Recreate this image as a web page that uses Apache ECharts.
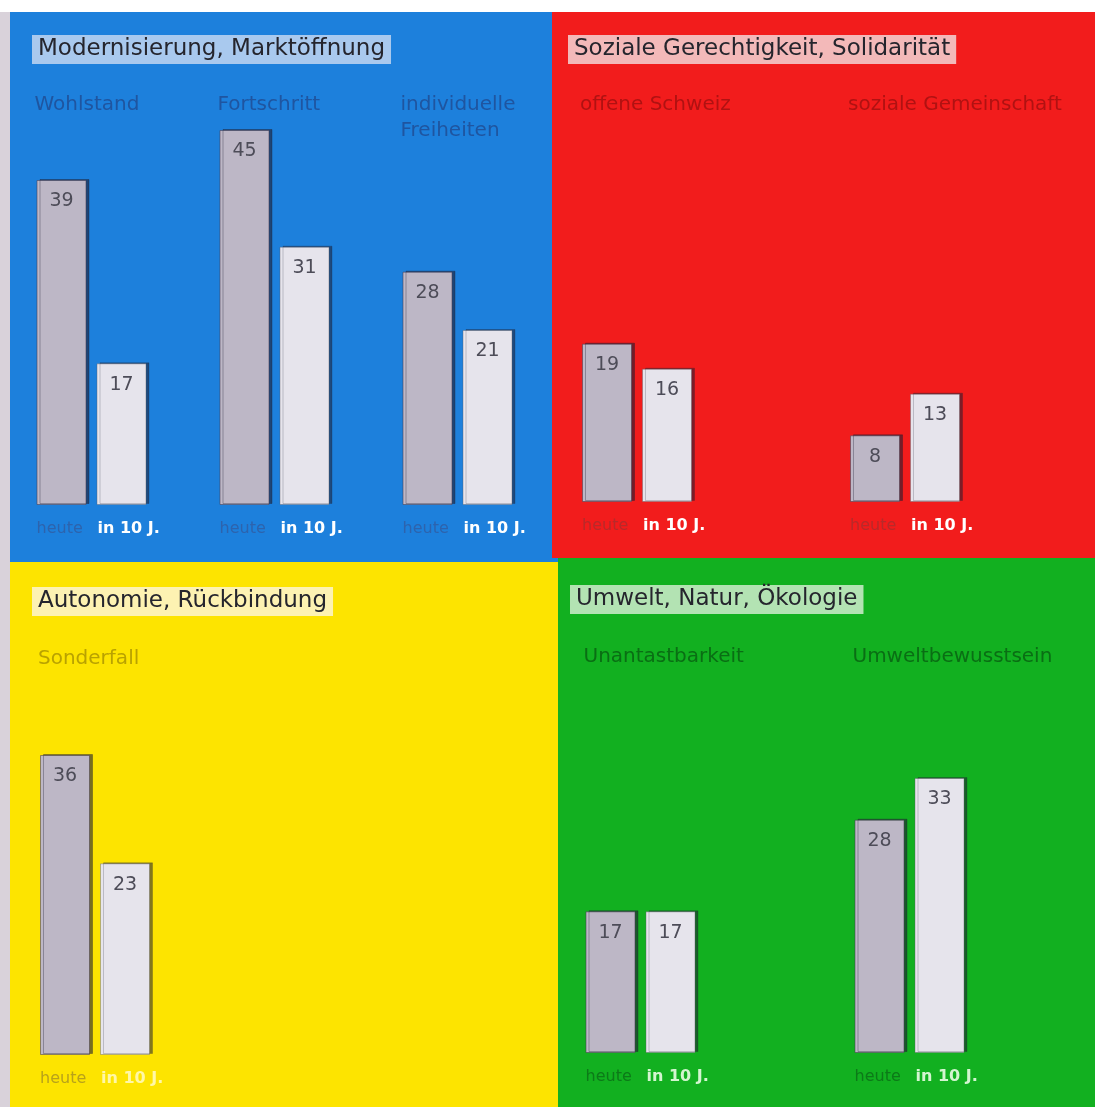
<!DOCTYPE html>
<html><head><meta charset="utf-8">
<script src="https://cdn.jsdelivr.net/npm/echarts@6/dist/echarts.min.js"></script>
<style>html,body{margin:0;padding:0;background:#fff}#c{width:1095px;height:1107px}</style>
</head><body><div id="c"></div>
<script>
// ---- data ----
const panelTitles = ['Modernisierung, Marktöffnung','Soziale Gerechtigkeit, Solidarität','Autonomie, Rückbindung','Umwelt, Natur, Ökologie'];
const catsBlue = ['Wohlstand','Fortschritt','individuelle\nFreiheiten'];
const heuteBlue = [39,45,28];
const in10Blue = [17,31,21];
const catsRed = ['offene Schweiz','soziale Gemeinschaft'];
const heuteRed = [19,8];
const in10Red = [16,13];
const catsYellow = ['Sonderfall'];
const heuteYellow = [36];
const in10Yellow = [23];
const catsGreen = ['Unantastbarkeit','Umweltbewusstsein'];
const heuteGreen = [17,28];
const in10Green = [17,33];
const barNames = ['heute','in 10 J.'];

// ---- styles ----
const FONT = 'DejaVu Sans';
const panels = [
  {cats:catsBlue, h:heuteBlue, f:in10Blue, grid:{left:0,width:549,top:5,height:500}, bg:'#1d80dc', catColor:'#1f55a0', heuteColor:'#2d63ad', in10Color:'#ffffff', box:'#a9c9ee', tpos:{left:32,top:35}, labTop:92},
  {cats:catsRed, h:heuteRed, f:in10Red, grid:{left:503,width:536,top:2,height:500}, bg:'#f21c1c', catColor:'#b01212', heuteColor:'#b82a2a', in10Color:'#ffffff', box:'#f3b9b9', tpos:{left:568,top:35}, labTop:92},
  {cats:catsYellow, h:heuteYellow, f:in10Yellow, grid:{left:4,width:182,top:555,height:500}, bg:'#fde400', catColor:'#b9a200', heuteColor:'#b8a21a', in10Color:'#fff7a8', box:'#fdf2b2', tpos:{left:32,top:587}, labTop:646},
  {cats:catsGreen, h:heuteGreen, f:in10Green, grid:{left:506,width:538,top:553,height:500}, bg:'#12b020', catColor:'#0a6e14', heuteColor:'#0c7a18', in10Color:'#d4f5d0', box:'#b3e3b3', tpos:{left:570,top:585}, labTop:644}
];
const rects = [
  {x:0,y:12,w:10,h:1095,c:'#d9d2da'},
  {x:10,y:12,w:548,h:550,c:panels[0].bg},
  {x:552,y:12,w:543,h:546,c:panels[1].bg},
  {x:10,y:562,w:548,h:545,c:panels[2].bg},
  {x:558,y:558,w:537,h:549,c:panels[3].bg}
];

const grids=[], xAxes=[], yAxes=[], series=[], titles=[];
panels.forEach((p,i)=>{
  grids.push(p.grid);
  // bar axis with bottom labels
  xAxes.push({type:'category', gridIndex:i, data:p.cats, axisLine:{show:false}, axisTick:{show:false},
    axisLabel:{margin:16, interval:0, formatter:()=>'{h|'+barNames[0]+'}{f|'+barNames[1]+'}',
      rich:{h:{width:61,align:'left',color:p.heuteColor,fontSize:16,fontFamily:FONT},
            f:{width:49,align:'left',color:p.in10Color,fontSize:16,fontWeight:'bold',fontFamily:FONT}}}});
  // category names on top
  xAxes.push({type:'category', gridIndex:i, data:p.cats, position:'top', offset:-(p.labTop-p.grid.top),
    axisLine:{show:false}, axisTick:{show:false},
    axisLabel:{margin:0, interval:0, verticalAlign:'top',
      formatter:v=>v.split('\n').map(s=>'{t|'+s+'}').join('\n'),
      rich:{t:{width:114,align:'left',color:p.catColor,fontSize:20,lineHeight:26,fontFamily:FONT}}}});
  yAxes.push({type:'value', gridIndex:i, min:0, max:60, show:false, splitLine:{show:false}});
  const lab = {show:true, position:'insideTop', distance:12, color:'#4d4c58', fontSize:19, fontFamily:FONT};
  series.push({type:'bar', name:barNames[0], xAxisIndex:2*i, yAxisIndex:i, data:p.h, barWidth:50, barGap:'20%',
    itemStyle:{color:'#bdb7c6', borderColor:'rgba(70,60,80,0.55)', borderWidth:1, shadowColor:'rgba(30,30,50,0.6)', shadowOffsetX:3, shadowOffsetY:-1}, label:lab});
  series.push({type:'bar', name:barNames[1], xAxisIndex:2*i, yAxisIndex:i, data:p.f, barWidth:50, barGap:'20%',
    itemStyle:{color:'#e6e4ec', borderColor:'rgba(90,90,100,0.4)', borderWidth:1, shadowColor:'rgba(30,30,50,0.55)', shadowOffsetX:3, shadowOffsetY:-1}, label:lab});
  titles.push({text:panelTitles[i], left:p.tpos.left, top:p.tpos.top, backgroundColor:p.box, padding:[3,6,3,6],
    textStyle:{fontSize:23, fontWeight:'normal', color:'#25252d', fontFamily:FONT}});
});

const chart = echarts.init(document.getElementById('c'), null, {renderer:'canvas'});
chart.setOption({
  animation:false,
  backgroundColor:'#ffffff',
  title:titles,
  graphic:rects.map(r=>({type:'rect', z:-10, silent:true, shape:{x:r.x,y:r.y,width:r.w,height:r.h}, style:{fill:r.c}})),
  grid:grids, xAxis:xAxes, yAxis:yAxes, series:series
});
</script></body></html>
